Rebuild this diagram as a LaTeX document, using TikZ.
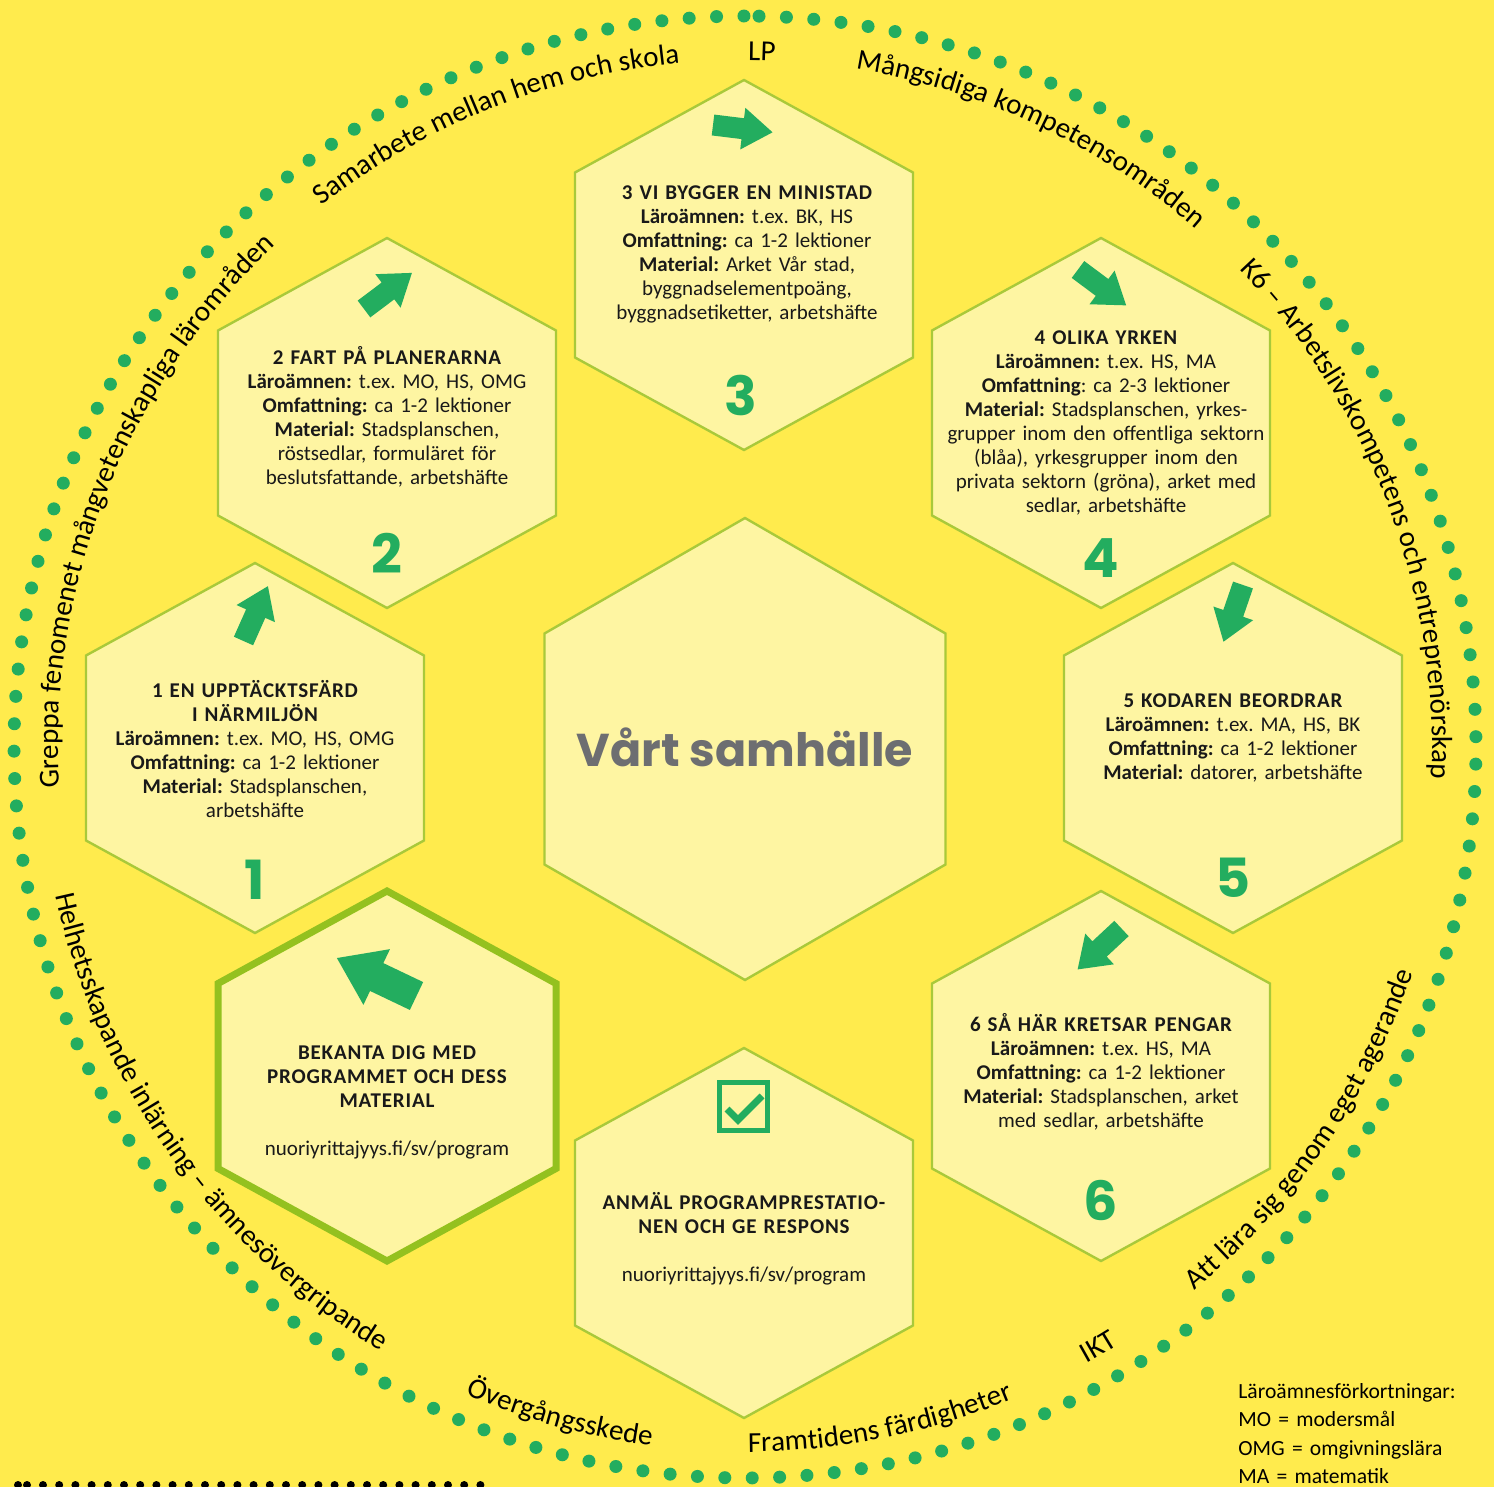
\documentclass[tikz,border=0pt]{standalone}
\usepackage{fontspec}
\setmainfont{Carlito}
\newfontfamily\capsfont[LetterSpace=4]{Carlito}
\newfontfamily\roundfont{Poppins}
\usetikzlibrary{decorations.text,positioning}
\frenchspacing

\definecolor{bgyellow}{HTML}{FFEB4D}
\definecolor{hexfill}{HTML}{FEF5A2}
\definecolor{hexline}{HTML}{A9C93A}
\definecolor{startline}{HTML}{94C11F}
\definecolor{mygreen}{HTML}{23AD5F}
\definecolor{titlegray}{HTML}{6D6E71}

\newcommand{\hd}[1]{{\capsfont\bfseries #1}}
\newcommand{\ringfont}{\fontsize{14.5}{17}\selectfont}
\newcommand{\grarrow}[4]{\fill[mygreen, shift={(#1,#2)}, rotate=#3, scale=#4]
  (0,-10.5) -- (30,-10.5) -- (30,-21) -- (60,0) -- (30,21) -- (30,10.5) -- (0,10.5) -- cycle;}
\newcommand{\ringcw}[3]{\path[decorate, decoration={text along path, text align=center,
  text={|\ringfont|#3}}] (C) ++(#1+40:#2) arc[start angle=#1+40, end angle=#1-40, radius=#2];}
\newcommand{\ringccw}[3]{\path[decorate, decoration={text along path, text align=center,
  text={|\ringfont|#3}}] (C) ++(#1-40:#2) arc[start angle=#1-40, end angle=#1+40, radius=#2];}

\tikzset{
  pics/hexa/.style n args={2}{code={
    \draw[pic actions] (0,#2) -- (#1,#2/2) -- (#1,-#2/2) -- (0,-#2) -- (-#1,-#2/2) -- (-#1,#2/2) -- cycle;}},
  hexbox/.style={fill=hexfill, draw=hexline, line width=1.2pt, line join=miter},
  startbox/.style={fill=hexfill, draw=startline, line width=3.5pt, line join=miter},
  info/.style={text width=190pt, align=center, anchor=base, inner sep=0pt,
    font=\fontsize{10.5}{12}\selectfont, text=black!90},
  num/.style={inner sep=0pt, text=mygreen, font=\roundfont\bfseries\fontsize{27}{27}\selectfont}
}

\begin{document}
\begin{tikzpicture}[x=0.5pt, y=0.5pt]
  \useasboundingbox (0,0) rectangle (1494,-1487);
  \clip (0,0) rectangle (1494,-1487);
  \fill[bgyellow] (0,0) rectangle (1494,-1487);
  \coordinate (C) at (745,-747);

  \foreach \i in {0,...,167}
    \fill[mygreen] (C) ++(88.9-\i*2.1486:731) circle[radius=6.5];
  \foreach \x in {18,27,43,59.2,...,482}
    \fill[black] (\x,-1485) circle[radius=4];

  \ringcw{88.6}{687}{LP}
  \ringcw{111.75}{687}{Samarbete mellan hem och skola}
  \ringcw{64.85}{687}{Mångsidiga kompetensområden}
  \ringcw{20.7}{687}{K6 – Arbetslivskompetens och entreprenörskap}
  \ringcw{158.25}{687}{Greppa fenomenet mångvetenskapliga lärområden}
  \ringccw{215.5}{705}{Helhetsskapande inlärning – ämnesövergripande}
  \ringccw{254.5}{705}{Övergångsskede}
  \ringccw{281.3}{705}{Framtidens färdigheter}
  \ringccw{300.5}{705}{IKT}
  \ringccw{325.45}{705}{Att lära sig genom eget agerande}

  \pic[hexbox] at (745,-749) {hexa={200.5}{231}};
  \pic[hexbox] at (744,-265) {hexa={169}{185}};
  \pic[hexbox] at (387,-423) {hexa={169}{185}};
  \pic[hexbox] at (1101,-423) {hexa={169}{185}};
  \pic[hexbox] at (255,-748) {hexa={169}{185}};
  \pic[hexbox] at (1233,-748) {hexa={169}{185}};
  \pic[hexbox] at (1101,-1076) {hexa={169}{185}};
  \pic[hexbox] at (744,-1233) {hexa={169}{185}};
  \pic[startbox] at (387,-1076) {hexa={169}{185}};

  \node[anchor=base, inner sep=0pt, text=titlegray, font=\roundfont\bfseries\fontsize{23}{23}\selectfont] (title) at (745,-766) {Vårt samhälle};

  \node[info] (t1) at (255,-697.5) {\hd{1 EN UPPTÄCKTSFÄRD\\I NÄRMILJÖN}\\
    \textbf{Läroämnen:} t.ex. MO, HS, OMG\\ \textbf{Omfattning:} ca 1-2 lektioner\\
    \textbf{Material:} Stadsplanschen,\\ arbetshäfte};
  \node[info] (t2) at (387,-364.5) {\hd{2 FART PÅ PLANERARNA}\\
    \textbf{Läroämnen:} t.ex. MO, HS, OMG\\ \textbf{Omfattning:} ca 1-2 lektioner\\
    \textbf{Material:} Stadsplanschen,\\ röstsedlar, formuläret för\\ beslutsfattande, arbetshäfte};
  \node[info] (t3) at (747,-200) {\hd{3 VI BYGGER EN MINISTAD}\\
    \textbf{Läroämnen:} t.ex. BK, HS\\ \textbf{Omfattning:} ca 1-2 lektioner\\
    \textbf{Material:} Arket Vår stad,\\ byggnadselementpoäng,\\ byggnadsetiketter, arbetshäfte};
  \node[info] (t4) at (1106,-344.5) {\hd{4 OLIKA YRKEN}\\
    \textbf{Läroämnen:} t.ex. HS, MA\\ \textbf{Omfattning}: ca 2-3 lektioner\\
    \textbf{Material:} Stadsplanschen, yrkes-\\ grupper inom den offentliga sektorn\\
    (blåa), yrkesgrupper inom den\\ privata sektorn (gröna), arket med\\ sedlar, arbetshäfte};
  \node[info] (t5) at (1233,-707.5) {\hd{5 KODAREN BEORDRAR}\\
    \textbf{Läroämnen:} t.ex. MA, HS, BK\\ \textbf{Omfattning:} ca 1-2 lektioner\\
    \textbf{Material:} datorer, arbetshäfte};
  \node[info] (t6) at (1101,-1031.5) {\hd{6 SÅ HÄR KRETSAR PENGAR}\\
    \textbf{Läroämnen:} t.ex. HS, MA\\ \textbf{Omfattning:} ca 1-2 lektioner\\
    \textbf{Material:} Stadsplanschen, arket\\ med sedlar, arbetshäfte};
  \node[info] (tstart) at (387,-1059.5) {\hd{BEKANTA DIG MED\\PROGRAMMET OCH DESS\\MATERIAL}\\[12pt]
    nuoriyrittajyys.fi/sv/program};
  \node[info] (tend) at (744,-1209.5) {\hd{ANMÄL PROGRAMPRESTATIO-\\NEN OCH GE RESPONS}\\[12pt]
    nuoriyrittajyys.fi/sv/program};

  \node[num] (n1) at (255,-880) {1};
  \node[num] (n2) at (387,-553) {2};
  \node[num] (n3) at (741,-395) {3};
  \node[num] (n4) at (1101,-558) {4};
  \node[num] (n5) at (1233,-878) {5};
  \node[num] (n6) at (1101,-1200) {6};

  \grarrow{243.5}{-641}{66}{1}
  \grarrow{364}{-309}{37}{1}
  \grarrow{713}{-125}{-7}{1}
  \grarrow{1078}{-269.5}{-36.7}{1}
  \grarrow{1243}{-585}{-109}{1}
  \grarrow{1121.5}{-928.5}{-137}{1}
  \grarrow{416.5}{-996}{154.5}{1.47}

  \draw[mygreen, line width=2.5pt] (719.5,-1082.5) rectangle (767.5,-1130.5);
  \draw[mygreen, line width=3.5pt] (727,-1109) -- (738,-1120) -- (762,-1096);

  \node[anchor=base west, inner sep=0pt, text width=130pt, align=left,
    font=\fontsize{10.8}{14.25}\selectfont] (legend) at (1238,-1398)
    {Läroämnesförkortningar:\\ MO = modersmål\\ OMG = omgivningslära\\ MA = matematik};
\end{tikzpicture}
\end{document}
